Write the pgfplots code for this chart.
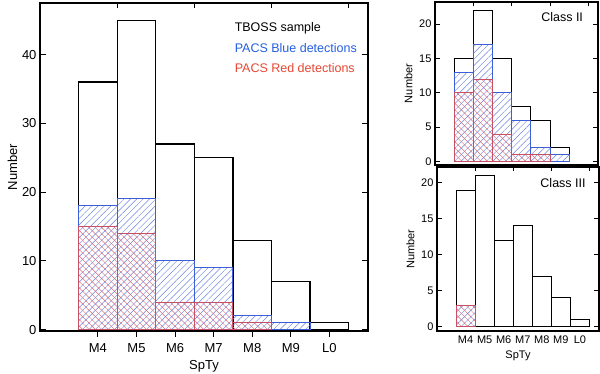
\documentclass[border=0pt]{standalone}
\usepackage{pgfplots}
\pgfplotsset{compat=1.18}
\usepackage{fontspec}
\setmainfont{Liberation Sans}
\usetikzlibrary{patterns.meta}

\definecolor{bluedet}{RGB}{60,95,215}
\definecolor{bluehatch}{RGB}{105,130,225}
\definecolor{reddet}{RGB}{200,80,100}
\definecolor{redhatch}{RGB}{215,105,120}
\definecolor{bluetext}{RGB}{35,95,225}
\definecolor{redtext}{RGB}{230,70,50}

\pgfplotsset{
  hist/.style={ybar, bar width=1, bar shift=0pt},
  total/.style={hist, draw=black, line width=1.3pt, fill=none},
  bluebar/.style={hist, draw=bluedet, line width=1pt,
    pattern={Lines[angle=45,distance=4.5pt,line width=0.45pt]}, pattern color=bluehatch},
  redbar/.style={hist, draw=reddet, line width=1pt,
    pattern={Lines[angle=-45,distance=4.5pt,line width=0.45pt]}, pattern color=redhatch},
  frame/.style={
    scale only axis,
    anchor=south west,
    xmin=2.5, xmax=11,
    axis line style={line width=1.1pt},
    tick style={line width=1pt, black},
    major tick length=5pt,
    ytick pos=both,
    ytick align=inside,
    /pgf/number format/assume math mode=true,
  },
}

\begin{document}
\begin{tikzpicture}
\path[use as bounding box] (0,0) rectangle (600pt,374pt);

% main panel: full sample
\begin{axis}[frame,
    at={(40pt,43pt)}, width=328pt, height=328pt,
    ymin=-0.2, ymax=47.5,
    ytick={0,10,20,30,40},
    xtick={4,5,6,7,8,9,10},
    xticklabels={M4,M5,M6,M7,M8,M9,L0},
    xtick pos=left, xtick align=outside,
    major tick length=6pt,
    ticklabel style={font=\fontsize{13}{13}\selectfont},
    xticklabel style={yshift=-3pt},
    label style={font=\fontsize{13}{13}\selectfont},
    xlabel={SpTy}, ylabel={Number},
    xlabel style={yshift=-1pt},
    ylabel style={yshift=-2pt},
]
\addplot[total] coordinates {(4,36) (5,45) (6,27) (7,25) (8,13) (9,7) (10,1)};
\addplot[bluebar] coordinates {(4,18) (5,19) (6,10) (7,9) (8,2) (9,1)};
\addplot[redbar] coordinates {(4,15) (5,14) (6,4) (7,4) (8,1)};
\draw[line width=2.2pt] (rel axis cs:0,0) -- (rel axis cs:1,0);
\draw[line width=1pt]
  (axis cs:4.5,47.5) -- ([yshift=-5pt]axis cs:4.5,47.5)
  (axis cs:6.5,47.5) -- ([yshift=-5pt]axis cs:6.5,47.5)
  (axis cs:8.5,47.5) -- ([yshift=-5pt]axis cs:8.5,47.5)
  (axis cs:10.5,47.5) -- ([yshift=-5pt]axis cs:10.5,47.5);
\node[anchor=west, font=\fontsize{12.5}{12.5}\selectfont] at (rel axis cs:0.583,0.924) {TBOSS sample};
\node[anchor=west, text=bluetext, font=\fontsize{12.5}{12.5}\selectfont] at (rel axis cs:0.583,0.863) {PACS Blue detections};
\node[anchor=west, text=redtext, font=\fontsize{12.5}{12.5}\selectfont] at (rel axis cs:0.583,0.802) {PACS Red detections};
\end{axis}

% Class II
\begin{axis}[frame,
    at={(435pt,209pt)}, width=163pt, height=163pt,
    ymin=-0.5, ymax=23.2,
    ytick={0,5,10,15,20},
    xtick=\empty,
    ticklabel style={font=\fontsize{11}{11}\selectfont},
    label style={font=\fontsize{11}{11}\selectfont},
    ylabel={Number},
]
\addplot[total, line width=1pt] coordinates {(4,15) (5,22) (6,15) (7,8) (8,6) (9,2)};
\addplot[bluebar] coordinates {(4,13) (5,17) (6,10) (7,6) (8,2) (9,1)};
\addplot[redbar] coordinates {(4,10) (5,12) (6,4) (7,1) (8,1)};
\draw[line width=2pt] (rel axis cs:0,0) -- (rel axis cs:1,0);
\draw[line width=0.8pt]
  (axis cs:4.5,23.2) -- ([yshift=-4pt]axis cs:4.5,23.2)
  (axis cs:6.5,23.2) -- ([yshift=-4pt]axis cs:6.5,23.2)
  (axis cs:8.5,23.2) -- ([yshift=-4pt]axis cs:8.5,23.2)
  (axis cs:10.5,23.2) -- ([yshift=-4pt]axis cs:10.5,23.2);
\node[font=\fontsize{12.5}{12.5}\selectfont] at (rel axis cs:0.78,0.908) {Class II};
\end{axis}

% Class III
\begin{axis}[frame,
    at={(437pt,43pt)}, width=162pt, height=164pt,
    ymin=-0.6, ymax=22.2,
    ytick={0,5,10,15,20},
    xtick={4,5,6,7,8,9,10},
    xticklabels={M4,M5,M6,M7,M8,M9,L0},
    xtick pos=left,
    xtick style={draw=none},
    ticklabel style={font=\fontsize{11}{11}\selectfont},
    xticklabel style={yshift=-1pt},
    label style={font=\fontsize{11}{11}\selectfont},
    xlabel={SpTy}, ylabel={Number},
    xlabel style={yshift=-1pt},
]
\addplot[total, line width=1pt] coordinates {(4,19) (5,21) (6,12) (7,14) (8,7) (9,4) (10,1)};
\addplot[bluebar] coordinates {(4,3)};
\addplot[redbar] coordinates {(4,3)};
\draw[line width=2pt] (rel axis cs:0,0) -- (rel axis cs:1,0);
\draw[line width=0.8pt]
  (axis cs:4.5,22.2) -- ([yshift=-4pt]axis cs:4.5,22.2)
  (axis cs:6.5,22.2) -- ([yshift=-4pt]axis cs:6.5,22.2)
  (axis cs:8.5,22.2) -- ([yshift=-4pt]axis cs:8.5,22.2)
  (axis cs:10.5,22.2) -- ([yshift=-4pt]axis cs:10.5,22.2);
\node[font=\fontsize{12.5}{12.5}\selectfont] at (rel axis cs:0.778,0.90) {Class III};
\end{axis}
\end{tikzpicture}
\end{document}
